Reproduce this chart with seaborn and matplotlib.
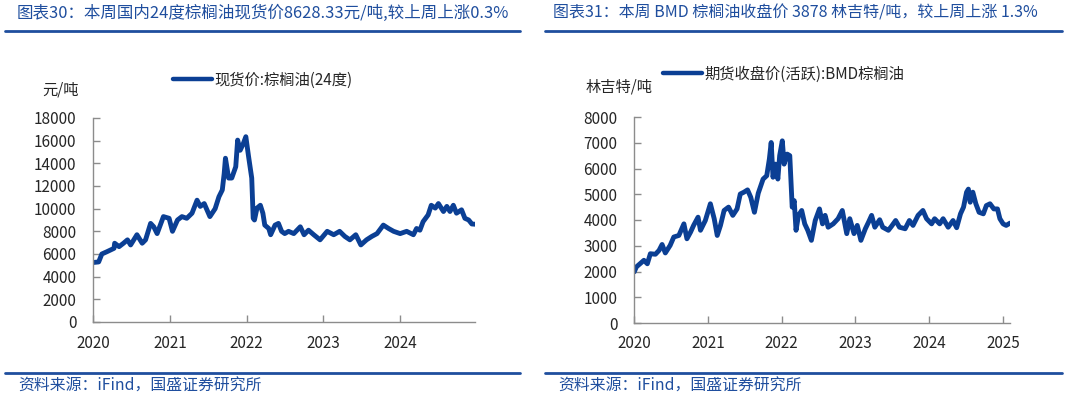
import pandas as pd
import numpy as np
import matplotlib
matplotlib.use('Agg')
import matplotlib.pyplot as plt
from matplotlib.lines import Line2D
import seaborn as sns

# 国内24度棕榈油现货价 (元/吨)
cn_dates = ["2020-01-02", "2020-01-28", "2020-02-12", "2020-03-07", "2020-04-10", "2020-04-13",
            "2020-05-04", "2020-05-25", "2020-06-13", "2020-06-28", "2020-07-28", "2020-08-22",
            "2020-09-07", "2020-10-01", "2020-10-16", "2020-11-01", "2020-12-01", "2020-12-28",
            "2021-01-13", "2021-02-06", "2021-02-27", "2021-03-22", "2021-04-16", "2021-05-10",
            "2021-05-25", "2021-06-13", "2021-07-10", "2021-08-04", "2021-08-22", "2021-09-07",
            "2021-09-16", "2021-09-22", "2021-10-07", "2021-10-22", "2021-11-10", "2021-11-19",
            "2021-12-01", "2021-12-16", "2021-12-28", "2022-01-10", "2022-01-25", "2022-02-01",
            "2022-02-07", "2022-02-19", "2022-03-07", "2022-03-19", "2022-03-28", "2022-04-16",
            "2022-04-25", "2022-05-16", "2022-06-01", "2022-06-16", "2022-07-01", "2022-07-19",
            "2022-08-13", "2022-09-13", "2022-10-01", "2022-10-22", "2022-11-16", "2022-12-16",
            "2023-01-19", "2023-02-19", "2023-03-19", "2023-04-13", "2023-05-07", "2023-06-04",
            "2023-06-28", "2023-07-25", "2023-08-19", "2023-09-13", "2023-10-13", "2023-11-07",
            "2023-12-01", "2024-01-01", "2024-02-01", "2024-03-04", "2024-03-19", "2024-04-04",
            "2024-04-19", "2024-05-13", "2024-05-28", "2024-06-16", "2024-07-01", "2024-07-25",
            "2024-08-10", "2024-08-25", "2024-09-10", "2024-09-25", "2024-10-19", "2024-11-04",
            "2024-11-22", "2024-12-07", "2024-12-22"]
cn_price = [5250, 5300, 6000, 6200, 6500, 6950,
            6650, 6950, 7250, 6800, 7700, 6950,
            7250, 8700, 8400, 7800, 9300, 9150,
            8000, 9000, 9300, 9150, 9600, 10750,
            10200, 10450, 9300, 10000, 11050, 11650,
            13100, 14450, 12700, 12700, 13700, 16050,
            15150, 15750, 16350, 14600, 12700, 9150,
            9000, 10050, 10300, 9600, 8550, 8250,
            7700, 8550, 8700, 8000, 7800, 8000,
            7800, 8400, 7700, 8100, 7700, 7250,
            8000, 7700, 8000, 7550, 7250, 7700,
            6800, 7250, 7550, 7800, 8550, 8250,
            8000, 7800, 8000, 7700, 8250, 8100,
            8850, 9450, 10300, 10050, 10450, 9750,
            10200, 9750, 10300, 9600, 9900, 9150,
            9000, 8650, 8628]

# BMD棕榈油期货收盘价(活跃) (林吉特/吨)
bmd_dates = ["2020-01-02", "2020-01-13", "2020-02-04", "2020-02-19", "2020-03-07", "2020-03-22",
             "2020-04-16", "2020-05-04", "2020-05-19", "2020-06-04", "2020-06-28", "2020-07-16",
             "2020-08-10", "2020-09-04", "2020-09-19", "2020-10-07", "2020-10-22", "2020-11-13",
             "2020-11-25", "2020-12-19", "2021-01-13", "2021-02-01", "2021-02-16", "2021-03-04",
             "2021-03-22", "2021-04-13", "2021-05-04", "2021-05-25", "2021-06-10", "2021-06-28",
             "2021-07-16", "2021-08-01", "2021-08-19", "2021-09-07", "2021-10-01", "2021-10-19",
             "2021-11-01", "2021-11-10", "2021-11-19", "2021-12-01", "2021-12-13", "2021-12-22",
             "2022-01-04", "2022-01-13", "2022-01-28", "2022-02-10", "2022-02-22", "2022-03-04",
             "2022-03-13", "2022-03-25", "2022-04-10", "2022-04-25", "2022-05-10", "2022-05-28",
             "2022-06-16", "2022-07-07", "2022-07-22", "2022-08-04", "2022-08-19", "2022-09-13",
             "2022-10-07", "2022-10-28", "2022-11-19", "2022-12-04", "2022-12-25", "2023-01-10",
             "2023-01-28", "2023-02-19", "2023-03-07", "2023-03-22", "2023-04-07", "2023-05-01",
             "2023-05-16", "2023-06-13", "2023-06-28", "2023-07-19", "2023-08-07", "2023-09-04",
             "2023-09-25", "2023-10-13", "2023-11-07", "2023-12-01", "2023-12-19", "2024-01-13",
             "2024-01-28", "2024-02-22", "2024-03-10", "2024-04-04", "2024-04-28", "2024-05-16",
             "2024-06-04", "2024-06-19", "2024-07-04", "2024-07-13", "2024-07-22", "2024-08-04",
             "2024-08-19", "2024-09-04", "2024-09-25", "2024-10-10", "2024-10-28", "2024-11-16",
             "2024-12-04", "2024-12-16", "2025-01-01", "2025-01-16", "2025-02-04"]
bmd_price = [1985, 2180, 2330, 2435, 2300, 2690,
             2670, 2820, 3050, 2720, 3015, 3340,
             3400, 3850, 3270, 3530, 3790, 4110,
             3600, 3980, 4630, 4050, 3400, 3790,
             4370, 4500, 4180, 4430, 5010, 5080,
             5170, 4880, 4300, 5040, 5590, 5720,
             6370, 7010, 5660, 6170, 5590, 6500,
             7075, 6170, 6560, 6500, 4500, 4750,
             3600, 4180, 4370, 3850, 3600, 3210,
             3980, 4430, 3850, 4180, 3720, 3850,
             4050, 4370, 3470, 4050, 3470, 3790,
             3210, 3660, 3920, 4180, 3720, 4010,
             3720, 3600, 3750, 3980, 3720, 3660,
             3980, 3790, 4180, 4370, 4050, 3850,
             4050, 3850, 4050, 3720, 3980, 3700,
             4240, 4500, 5080, 5200, 4690, 5080,
             4630, 4300, 4240, 4560, 4630, 4430,
             4430, 4050, 3850, 3790, 3878]

year_ticks_cn = ["2020", "2021", "2022", "2023", "2024"]
year_ticks_bmd = ["2020", "2021", "2022", "2023", "2024", "2025"]

titles = ["图表30：本周国内24度棕榈油现货价8628.33元/吨,较上周上涨0.3%",
          "图表31：本周 BMD 棕榈油收盘价 3878 林吉特/吨，较上周上涨 1.3%"]
series_names = ["现货价:棕榈油(24度)", "期货收盘价(活跃):BMD棕榈油"]
units = ["元/吨", "林吉特/吨"]
source = "资料来源：iFind，国盛证券研究所"

sns.set_theme(style='white')
plt.rcParams['font.family'] = ['Noto Sans CJK SC', 'DejaVu Sans']
plt.rcParams['axes.unicode_minus'] = False

LINE = '#0b3f94'
TITLE = '#1f4e9e'
GRAY = '#8c8c8c'

fig = plt.figure(figsize=(10.65, 3.98), dpi=100)
W, H = 1065, 398


def fx(px):
    return px / W


def fy(py):
    return 1 - py / H


ax1 = fig.add_axes([fx(93), fy(322), fx(475) - fx(93), fy(118) - fy(322)])
ax2 = fig.add_axes([fx(634), fy(323), fx(1010) - fx(634), fy(117) - fy(323)])

df_cn = pd.DataFrame({'date': pd.to_datetime(cn_dates), 'price': cn_price})
df_bmd = pd.DataFrame({'date': pd.to_datetime(bmd_dates), 'price': bmd_price})

sns.lineplot(data=df_cn, x='date', y='price', ax=ax1, color=LINE, lw=3.5,
             label=series_names[0], legend=False)
sns.lineplot(data=df_bmd, x='date', y='price', ax=ax2, color=LINE, lw=3.5,
             label=series_names[1], legend=False)

panels = [(ax1, df_cn, year_ticks_cn, 18000, 2000),
          (ax2, df_bmd, year_ticks_bmd, 8000, 1000)]
for ax, df, yrs, ytop, ystep in panels:
    ax.set_xlim(pd.Timestamp("2020-01-01"), df['date'].iloc[-1])
    ax.set_ylim(0, ytop)
    ax.set_yticks(np.arange(0, ytop + 1, ystep))
    ax.set_xticks(pd.to_datetime([y + "-01-01" for y in yrs]))
    ax.set_xticklabels(yrs)
    ax.set_xlabel('')
    ax.set_ylabel('')
    for s in ['top', 'right']:
        ax.spines[s].set_visible(False)
    for s in ['left', 'bottom']:
        ax.spines[s].set_color(GRAY)
        ax.spines[s].set_linewidth(1.0)
    ax.tick_params(axis='y', direction='in', length=5, color=GRAY, width=1,
                   labelsize=11, pad=12, left=True)
    ax.tick_params(axis='x', direction='in', length=5, color=GRAY, width=1,
                   labelsize=11, pad=9, bottom=True)
    ax.set_facecolor('white')

# legends
leg_pos = [(263, 80), (784, 74)]
for ax, (lx, ly) in zip([ax1, ax2], leg_pos):
    leg = ax.legend(loc='center', bbox_to_anchor=(fx(lx), fy(ly)), bbox_transform=fig.transFigure,
                    frameon=False, fontsize=11, handlelength=2.5, handletextpad=0.2)
    for h in leg.get_lines():
        h.set_linewidth(3.2)

# unit labels
fig.text(fx(61), fy(90), units[0], ha='center', va='center', fontsize=11)
fig.text(fx(619), fy(87), units[1], ha='center', va='center', fontsize=11)

# titles and rules
fig.text(fx(17), fy(13), titles[0], ha='left', va='center', fontsize=11.9,
         color=TITLE, style='italic')
fig.text(fx(553), fy(13), titles[1], ha='left', va='center', fontsize=11.5,
         color=TITLE, style='italic')
for x0, x1 in [(5, 520), (545, 1062)]:
    fig.add_artist(Line2D([fx(x0), fx(x1)], [fy(31), fy(31)], transform=fig.transFigure,
                          color=TITLE, lw=2))
    fig.add_artist(Line2D([fx(x0), fx(x1)], [fy(373), fy(373)], transform=fig.transFigure,
                          color=TITLE, lw=2))

fig.text(fx(18), fy(386), source, ha='left', va='center', fontsize=11.4, color=TITLE, style='italic')
fig.text(fx(558), fy(386), source, ha='left', va='center', fontsize=11.4, color=TITLE, style='italic')

fig.savefig('out.png', dpi=100)
